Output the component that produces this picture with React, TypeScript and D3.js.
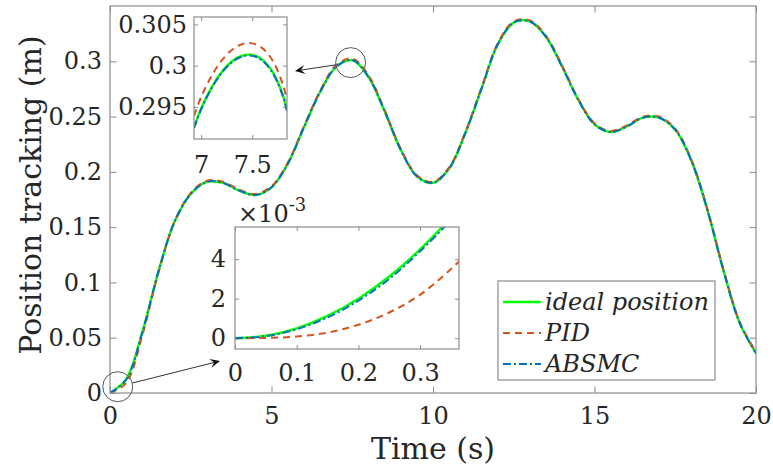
import { useRef, useEffect } from "react";
import * as d3 from "d3";

// main trajectory (0.5 s steps)
const timeMain = [0, 0.5, 1, 1.5, 2, 2.5, 3, 3.5, 4, 4.5, 5, 5.5, 6, 6.5, 7, 7.5, 8, 8.5, 9, 9.5, 10,
  10.5, 11, 11.5, 12, 12.5, 13, 13.5, 14, 14.5, 15, 15.5, 16, 16.5, 17, 17.5, 18, 18.5, 19, 19.5, 20];
const idealMain = [0, 0.0125, 0.055, 0.11, 0.155, 0.18, 0.191, 0.19, 0.183, 0.179, 0.186, 0.207, 0.24, 0.272, 0.295, 0.301,
  0.286, 0.255, 0.22, 0.196, 0.19, 0.203, 0.235, 0.275, 0.315, 0.335, 0.336, 0.322, 0.295, 0.265, 0.243,
  0.236, 0.241, 0.249, 0.249, 0.238, 0.21, 0.165, 0.11, 0.063, 0.036];
const pidMain = [0, 0.009, 0.052, 0.109, 0.155, 0.181, 0.192, 0.191, 0.184, 0.18, 0.187, 0.208, 0.241, 0.273, 0.2965, 0.3025,
  0.2875, 0.256, 0.221, 0.197, 0.191, 0.204, 0.236, 0.276, 0.316, 0.336, 0.337, 0.323, 0.296, 0.266, 0.244,
  0.237, 0.242, 0.25, 0.25, 0.239, 0.211, 0.166, 0.111, 0.064, 0.037];
const absmcMain = [0, 0.012, 0.0548, 0.1099, 0.155, 0.18, 0.191, 0.19, 0.183, 0.179, 0.186, 0.207, 0.24, 0.272, 0.2949, 0.3012,
  0.286, 0.255, 0.22, 0.196, 0.19, 0.203, 0.235, 0.275, 0.315, 0.335, 0.336, 0.322, 0.295, 0.265, 0.243,
  0.236, 0.241, 0.249, 0.249, 0.238, 0.21, 0.165, 0.11, 0.063, 0.036];

// zoom around the 7.5 s peak
const timePeak = [6.93, 7.0, 7.1, 7.2, 7.3, 7.4, 7.5, 7.6, 7.7, 7.8, 7.84];
const idealPeak = [0.2925, 0.2948, 0.2973, 0.2992, 0.3005, 0.3012, 0.3013, 0.3007, 0.2992, 0.2964, 0.2946];
const pidPeak = [0.2939, 0.2962, 0.2987, 0.3006, 0.3019, 0.3026, 0.3027, 0.3021, 0.3006, 0.2977, 0.2958];
const absmcPeak = [0.2924, 0.2947, 0.2972, 0.2991, 0.3004, 0.3011, 0.3012, 0.3006, 0.2991, 0.2963, 0.2945];

// zoom around the start
const timeStart = [0, 0.05, 0.1, 0.15, 0.2, 0.25, 0.3, 0.35, 0.37];
const idealStart = [0, 0.00012, 0.0005, 0.00113, 0.002, 0.00312, 0.0045, 0.00612, 0.0069];
const pidStart = [0, 0.00001, 0.00008, 0.00028, 0.00068, 0.0013, 0.0022, 0.0035, 0.0041];
const absmcStart = [0, 0.0001, 0.00045, 0.00105, 0.0019, 0.003, 0.0044, 0.006, 0.0068];

const mainXTicks = [0, 5, 10, 15, 20];
const mainYTicks = [0, 0.05, 0.1, 0.15, 0.2, 0.25, 0.3];
const mainYLabels = ["0", "0.05", "0.1", "0.15", "0.2", "0.25", "0.3"];
const peakXTicks = [7, 7.5];
const peakYTicks = [0.295, 0.3, 0.305];
const peakYLabels = ["0.295", "0.3", "0.305"];
const startXTicks = [0, 0.1, 0.2, 0.3];
const startXLabels = ["0", "0.1", "0.2", "0.3"];
const startYTicks = [0, 0.002, 0.004];
const startYLabels = ["0", "2", "4"];

const legendLabels = ["ideal position", "PID", "ABSMC"];

const FONT = "'DejaVu Serif', serif";
const AXIS_COLOR = "#8c8c8c";
const TEXT_COLOR = "#262626";

const seriesStyle = [
  { color: "#00ff00", dash: null, width: 2.4 },
  { color: "#d95319", dash: "7,5", width: 2 },
  { color: "#0072bd", dash: "8,3,2,3", width: 2 },
];

const drawPanel = (svg, id, box, xDomain, yDomain, opts) => {
  const x = d3.scaleLinear().domain(xDomain).range([box.left, box.right]);
  const y = d3.scaleLinear().domain(yDomain).range([box.bottom, box.top]);

  svg.append("rect")
    .attr("x", box.left).attr("y", box.top)
    .attr("width", box.right - box.left).attr("height", box.bottom - box.top)
    .attr("fill", "#fff");

  svg.append("clipPath").attr("id", id)
    .append("rect")
    .attr("x", box.left).attr("y", box.top)
    .attr("width", box.right - box.left).attr("height", box.bottom - box.top);

  const fmt = (labels, ticks) => (d) => labels ? labels[ticks.indexOf(d)] : String(d);

  const styleAxis = (g) => {
    g.attr("font-family", FONT).attr("font-size", opts.fontSize);
    g.selectAll("line").attr("stroke", AXIS_COLOR);
    g.select(".domain").remove();
    g.selectAll("text").attr("fill", TEXT_COLOR);
  };

  svg.append("g")
    .attr("transform", `translate(0, ${box.bottom})`)
    .call(d3.axisBottom(x).tickValues(opts.xTicks).tickSize(-opts.tickLen).tickSizeOuter(0)
      .tickPadding(opts.xPad).tickFormat(fmt(opts.xLabels, opts.xTicks)))
    .call(styleAxis);
  svg.append("g")
    .attr("transform", `translate(0, ${box.top})`)
    .call(d3.axisTop(x).tickValues(opts.xTicks).tickSize(-opts.tickLen).tickSizeOuter(0).tickFormat(() => ""))
    .call(styleAxis);
  svg.append("g")
    .attr("transform", `translate(${box.left}, 0)`)
    .call(d3.axisLeft(y).tickValues(opts.yTicks).tickSize(-opts.tickLen).tickSizeOuter(0)
      .tickPadding(opts.yPad).tickFormat(fmt(opts.yLabels, opts.yTicks)))
    .call(styleAxis);
  svg.append("g")
    .attr("transform", `translate(${box.right}, 0)`)
    .call(d3.axisRight(y).tickValues(opts.yTicks).tickSize(-opts.tickLen).tickSizeOuter(0).tickFormat(() => ""))
    .call(styleAxis);

  const line = d3.line()
    .x((d) => x(d[0]))
    .y((d) => y(d[1]))
    .curve(d3.curveCatmullRom.alpha(0.5));

  opts.series.forEach((values, i) => {
    const st = seriesStyle[i];
    svg.append("path")
      .datum(opts.time.map((t, k) => [t, values[k]]))
      .attr("clip-path", `url(#${id})`)
      .attr("fill", "none")
      .attr("stroke", st.color)
      .attr("stroke-width", st.width)
      .attr("stroke-dasharray", st.dash)
      .attr("d", line);
  });

  svg.append("rect")
    .attr("x", box.left).attr("y", box.top)
    .attr("width", box.right - box.left).attr("height", box.bottom - box.top)
    .attr("fill", "none")
    .attr("stroke", AXIS_COLOR)
    .attr("stroke-width", 1.2);

  return { x, y };
};

const arrow = (svg, from, to) => {
  const ang = Math.atan2(to[1] - from[1], to[0] - from[0]);
  const L = 10, W = 4.5, N = 6;
  const pt = (a, b) => [to[0] - a * Math.cos(ang) + b * Math.sin(ang), to[1] - a * Math.sin(ang) - b * Math.cos(ang)];
  svg.append("line")
    .attr("x1", from[0]).attr("y1", from[1])
    .attr("x2", pt(N, 0)[0]).attr("y2", pt(N, 0)[1])
    .attr("stroke", "#333").attr("stroke-width", 1);
  svg.append("path")
    .attr("d", d3.line()([to, pt(L, W), pt(N, 0), pt(L, -W)]) + "Z")
    .attr("fill", "#111");
};

export default function App() {
  const ref = useRef(null);

  useEffect(() => {
    const svg = d3.select(ref.current);
    svg.selectAll("*").remove();

    const main = drawPanel(svg, "clipMain", { left: 110, top: 6, right: 756, bottom: 393 }, [0, 20], [0, 0.35], {
      xTicks: mainXTicks, yTicks: mainYTicks, yLabels: mainYLabels,
      tickLen: 6.5, xPad: 14, yPad: 8, fontSize: 24,
      time: timeMain, series: [idealMain, pidMain, absmcMain],
    });

    // axis labels
    svg.append("text")
      .attr("x", 433).attr("y", 459)
      .attr("text-anchor", "middle")
      .attr("font-family", FONT).attr("font-size", 30).attr("fill", TEXT_COLOR)
      .text("Time (s)");
    svg.append("text")
      .attr("transform", "translate(41, 195) rotate(-90)")
      .attr("text-anchor", "middle")
      .attr("font-family", FONT).attr("font-size", 30).attr("fill", TEXT_COLOR)
      .text("Position tracking (m)");

    // highlight circles + arrows
    const r = 15;
    const peakC = [main.x(7.45), main.y(0.2988)];
    const startC = [main.x(0.24), main.y(0.0057)];
    [peakC, startC].forEach((c) => {
      svg.append("circle")
        .attr("cx", c[0]).attr("cy", c[1]).attr("r", r)
        .attr("fill", "none").attr("stroke", "#555").attr("stroke-width", 1);
    });
    const edge = (c, to) => {
      const a = Math.atan2(to[1] - c[1], to[0] - c[0]);
      return [c[0] + r * Math.cos(a), c[1] + r * Math.sin(a)];
    };
    const peakTip = [295, 71];
    const startTip = [220, 361];
    arrow(svg, edge(peakC, peakTip), peakTip);
    arrow(svg, edge(startC, startTip), startTip);

    // inset: peak
    drawPanel(svg, "clipPeak", { left: 194, top: 17, right: 287, bottom: 139 }, [6.93, 7.84], [0.2911, 0.3059], {
      xTicks: peakXTicks, yTicks: peakYTicks, yLabels: peakYLabels,
      tickLen: 4, xPad: 17, yPad: 7, fontSize: 24,
      time: timePeak, series: [idealPeak, pidPeak, absmcPeak],
    });

    // inset: start
    drawPanel(svg, "clipStart", { left: 235, top: 227, right: 459, bottom: 349 }, [0, 0.363], [-0.00055, 0.00563], {
      xTicks: startXTicks, xLabels: startXLabels, yTicks: startYTicks, yLabels: startYLabels,
      tickLen: 4, xPad: 15, yPad: 9, fontSize: 24,
      time: timeStart, series: [idealStart, pidStart, absmcStart],
    });

    const expo = svg.append("text")
      .attr("x", 238).attr("y", 222)
      .attr("font-family", FONT).attr("font-size", 24).attr("fill", TEXT_COLOR);
    expo.append("tspan").text("\u00d710");
    expo.append("tspan").attr("dy", -11).attr("font-size", 18).text("-3");

    // legend
    const lg = { left: 498, top: 281, right: 715, bottom: 380 };
    svg.append("rect")
      .attr("x", lg.left).attr("y", lg.top)
      .attr("width", lg.right - lg.left).attr("height", lg.bottom - lg.top)
      .attr("fill", "#fff").attr("stroke", AXIS_COLOR).attr("stroke-width", 1.2);
    const rowY = d3.scalePoint().domain(legendLabels).range([302, 364]);
    legendLabels.forEach((lab, i) => {
      const st = seriesStyle[i];
      const yy = rowY(lab);
      svg.append("line")
        .attr("x1", 503).attr("x2", 541).attr("y1", yy).attr("y2", yy)
        .attr("stroke", st.color).attr("stroke-width", st.width)
        .attr("stroke-dasharray", st.dash);
      svg.append("text")
        .attr("x", 545).attr("y", yy + 8)
        .attr("font-family", FONT).attr("font-style", "italic").attr("font-size", 24)
        .attr("fill", TEXT_COLOR)
        .text(lab);
    });
  }, []);

  return (
    <svg ref={ref} width={773} height={468}
      style={{ position: "absolute", left: 0, top: 0, background: "#fff" }} />
  );
}
